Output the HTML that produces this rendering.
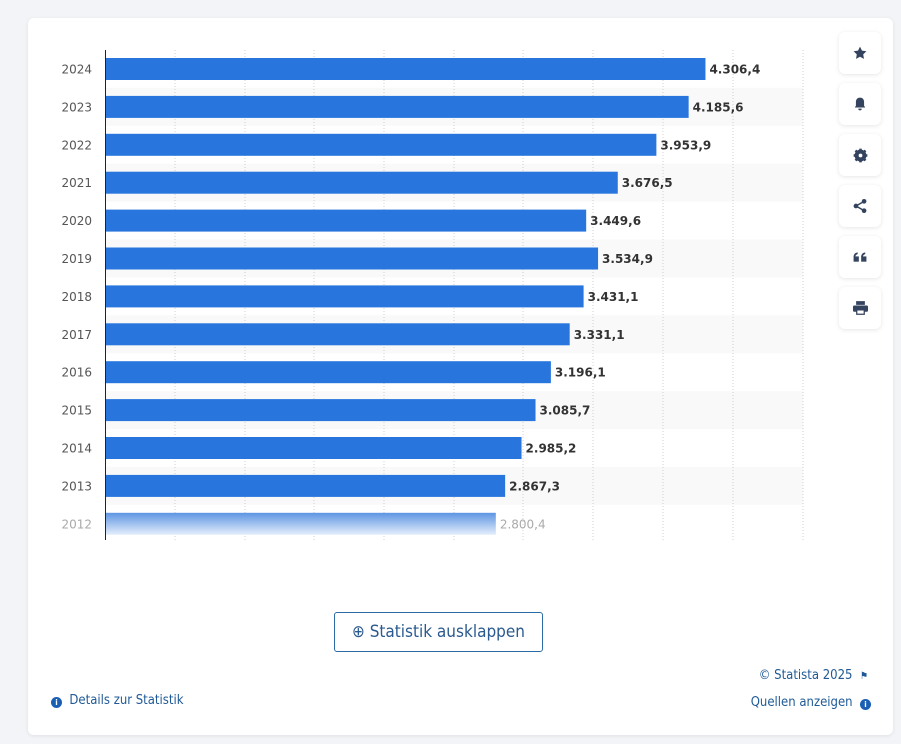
<!DOCTYPE html>
<html><head><meta charset="utf-8"><style>
body{margin:0;width:901px;height:744px;background:#f2f4f7;font-family:"Liberation Sans",sans-serif;overflow:hidden;position:relative}
.card{position:absolute;left:28px;top:18px;width:865px;height:717px;background:#fff;border-radius:6px;box-shadow:0 1px 4px rgba(0,0,0,.08)}
.btn{position:absolute;left:839px;width:42px;height:42px;background:#fff;border-radius:6px;box-shadow:0 1px 5px rgba(0,0,0,.1);display:flex;align-items:center;justify-content:center}
.exp{position:absolute;left:334px;top:612px;width:209px;height:40px;border:1px solid #2a6aa5;border-radius:3px;box-sizing:border-box;color:#2a5a8f;font-size:17px;display:flex;align-items:center;justify-content:center;font-family:"DejaVu Sans Condensed","Liberation Sans",sans-serif}
.ft{position:absolute;font-size:13px;color:#1f5a96;font-family:"DejaVu Sans Condensed","Liberation Sans",sans-serif}
.ic{display:inline-block;width:11px;height:11px;border-radius:50%;background:#1a5fb4;color:#fff;font-size:8px;text-align:center;line-height:11px;font-weight:bold;vertical-align:-1px}
</style></head><body>
<div class="card"></div>
<svg width="901" height="744" style="position:absolute;left:0;top:0">
<g id="bands" fill="#f9f9f9"></g>
<g stroke="#d0d0d0" stroke-dasharray="1,2">
<line x1="175" y1="50" x2="175" y2="540"/><line x1="245" y1="50" x2="245" y2="540"/><line x1="314" y1="50" x2="314" y2="540"/><line x1="384" y1="50" x2="384" y2="540"/><line x1="454" y1="50" x2="454" y2="540"/><line x1="523" y1="50" x2="523" y2="540"/><line x1="593" y1="50" x2="593" y2="540"/><line x1="663" y1="50" x2="663" y2="540"/><line x1="733" y1="50" x2="733" y2="540"/><line x1="803" y1="50" x2="803" y2="540"/>
</g>
<defs><linearGradient id="fd" x1="0" y1="0" x2="0" y2="1"><stop offset="0" stop-color="#5d95e3"/><stop offset="1" stop-color="#e4eefb"/></linearGradient></defs>
<g id="bars"></g>
<line x1="105.5" y1="50" x2="105.5" y2="540" stroke="#222" stroke-width="1"/>
</svg>
<script>
var v=[4306.4,4185.6,3953.9,3676.5,3449.6,3534.9,3431.1,3331.1,3196.1,3085.7,2985.2,2867.3,2800.4];
var ns="http://www.w3.org/2000/svg",b=document.getElementById('bars'),bd=document.getElementById('bands');
function el(t,a,p,txt){var e=document.createElementNS(ns,t);for(var k in a)e.setAttribute(k,a[k]);if(txt)e.textContent=txt;p.appendChild(e);}
for(var i=0;i<13;i++){var c=69+37.9*i,w=v[i]*0.1392,last=i==12;
if(i%2==1)el('rect',{x:106,y:c-19,width:697,height:38},bd);
el('rect',{x:106,y:c-11,width:w,height:22,fill:last?'url(#fd)':'#2876dd'},b);
el('text',{x:92,y:c+4.5,'text-anchor':'end','font-size':12,fill:last?'#aaa':'#555','font-family':'DejaVu Sans, sans-serif'},b,String(2024-i));
el('text',{x:110+w,y:c+4.5,'font-size':12,'font-weight':last?'normal':'bold',fill:last?'#aaa':'#333','font-family':'DejaVu Sans, sans-serif'},b,v[i].toFixed(1).replace('.',',').replace(/^(\d)(\d{3})/,'$1.$2'));}
</script>
<div class="btn" style="top:32px"><svg width="14" height="14" viewBox="0 0 24 24"><path d="M12 1l3.4 7 7.6 1-5.5 5.3 1.3 7.7L12 18.4 5.2 22l1.3-7.7L1 9l7.6-1z" fill="#34435e"/></svg></div>
<div class="btn" style="top:83px"><svg width="14" height="14" viewBox="0 0 24 24"><path d="M12 1c-4 0-7 3-7 7v7l-2 3h18l-2-3V8c0-4-3-7-7-7zM9 20a3 3 0 0 0 6 0z" fill="#34435e"/></svg></div>
<div class="btn" style="top:134px"><svg width="15" height="15" viewBox="0 0 24 24"><circle cx="12" cy="12" r="7" fill="none" stroke="#34435e" stroke-width="5"/><g stroke="#34435e" stroke-width="4"><line x1="12" y1="1" x2="12" y2="23"/><line x1="1" y1="12" x2="23" y2="12"/><line x1="4" y1="4" x2="20" y2="20"/><line x1="20" y1="4" x2="4" y2="20"/></g><circle cx="12" cy="12" r="3" fill="#fff"/></svg></div>
<div class="btn" style="top:185px"><svg width="14" height="14" viewBox="0 0 24 24"><g fill="#34435e"><circle cx="19" cy="4" r="4"/><circle cx="5" cy="12" r="4"/><circle cx="19" cy="20" r="4"/></g><path d="M19 4L5 12l14 8" stroke="#34435e" stroke-width="2.5" fill="none"/></svg></div>
<div class="btn" style="top:236px"><svg width="14" height="10" viewBox="0 0 24 16"><g fill="#34435e"><rect x="1" y="7" width="9" height="9"/><rect x="14" y="7" width="9" height="9"/><path d="M1 8Q1 1 8 0v3Q4 4 4 8zM14 8Q14 1 21 0v3Q17 4 17 8z"/></g></svg></div>
<div class="btn" style="top:287px"><svg width="15" height="14" viewBox="0 0 24 22"><g fill="#34435e"><rect x="5" y="0" width="14" height="6"/><rect x="0" y="7" width="24" height="10" rx="2"/><rect x="5" y="13" width="14" height="9"/></g><rect x="7" y="15" width="10" height="5" fill="#fff"/></svg></div>
<div class="exp">⊕ Statistik ausklappen</div>
<div class="ft" style="left:51px;top:693px"><span class="ic">i</span>&nbsp; Details zur Statistik</div>
<div class="ft" style="right:33px;top:668px">© Statista 2025 &nbsp;<span style="font-size:10px">⚑</span></div>
<div class="ft" style="right:30px;top:695px">Quellen anzeigen &nbsp;<span class="ic">i</span></div>
</body></html>
